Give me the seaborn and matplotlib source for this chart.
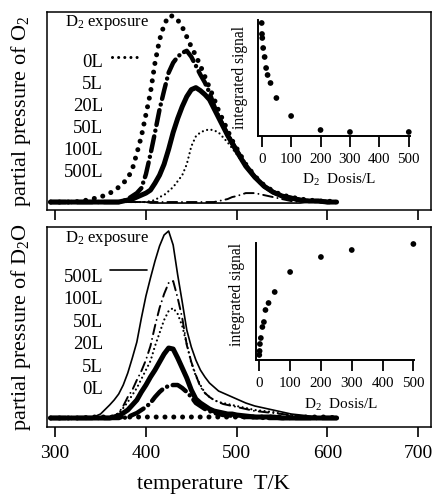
import matplotlib
matplotlib.use("Agg")
import matplotlib.pyplot as plt
import pandas as pd
import seaborn as sns

# ---------------- data ----------------
temps = [295, 300, 310, 320, 330, 340, 350,
         360, 365, 370, 375, 380, 385, 390, 395, 400, 405, 410, 415, 420, 425, 430,
         435, 440, 445, 450, 455, 460, 465, 470, 475, 480, 485, 490, 495, 500,
         510, 520, 530, 540, 550, 560, 570, 580, 590, 600, 610]

exposures = ["0L", "5L", "20L", "50L", "100L", "500L"]

# O2 desorption (arbitrary units)
o2_0L = [0, 0, 0, 0, 1, 3, 5,
         9, 11, 15, 19, 24, 33, 49, 66, 88, 110, 140, 163, 178, 187, 187,
         183, 176, 166, 156, 147, 137, 126, 115, 104, 92, 82, 72, 62, 54,
         38, 26, 17, 11, 7, 5, 3, 2, 1, 1, 0]
o2_5L = [0, 0, 0, 0, 0, 0, 0,
         0, 0, 0, 1, 3, 6, 9, 14, 28, 48, 70, 93, 112, 130, 140,
         146, 150, 152, 146, 137, 128, 120, 110, 97, 86, 77, 68, 60, 52,
         37, 25, 16, 10, 6, 4, 2, 1, 1, 0, 0]
o2_20L = [0, 0, 0, 0, 0, 0, 0,
          0, 0, 0, 1, 2, 3, 5, 7, 9, 12, 19, 27, 38, 53, 70,
          84, 96, 106, 113, 115, 112, 108, 103, 94, 85, 76, 67, 59, 51,
          36, 25, 16, 10, 6, 4, 2, 1, 1, 0, 0]
o2_50L = [0, 0, 0, 0, 0, 0, 0,
          0, 0, 0, 0, 0, 0, 0, 0, 0, 1, 2, 5, 7, 11, 15,
          21, 27, 38, 56, 66, 70, 72, 73, 72, 70, 65, 60, 54, 48,
          35, 24, 15, 9, 6, 4, 3, 2, 2, 1, 1]
o2_100L = [0, 0, 0, 0, 0, 0, 0,
           0, 0, 0, 0, 0, 0, 0, 0, 0, 0, 0, 0, 0, 0, 0,
           0, 0, 0, 0, 0, 0, 0, 0, 0, 1, 2, 3, 5, 6,
           9, 9, 7, 5, 3, 1, 0, 0, 0, 0, 0]
o2_500L = [0, 0, 0, 0, 0, 0, 0,
           0, 0, 0, 0, 0, 0, 0, 0, 0, -1, -1, -1, -1, -1, -1,
           -1, -1, -1, -1, -1, -1, -1, -1, -1, -1, -1, -1, -1, -1,
           -1, -1, -1, -1, -1, -1, -1, 0, 0, 0, 0]

# D2O desorption (arbitrary units)
d2o_0L = [0, 0, 0, 0, 0, 1, 1,
          1, 1, 1, 1, 1, 1, 1, 1, 1, 1, 1, 1, 1, 1, 1,
          1, 1, 1, 1, 1, 1, 1, 1, 1, 1, 1, 1, 1, 1,
          1, 1, 1, 1, 1, 1, 1, 1, 1, 1, 0]
d2o_5L = [0, 0, 0, 0, 0, 0, 0,
          0, 0, 0, 0, 1, 3, 5, 8, 11, 15, 21, 26, 30, 32, 33,
          33, 30, 26, 21, 15, 12, 9, 7, 5, 4, 3, 3, 2, 2,
          1, 1, 0, 0, 0, 0, 0, 0, 0, 0, 0]
d2o_20L = [0, 0, 0, 0, 0, 0, 0,
           0, 1, 2, 5, 8, 13, 18, 26, 33, 41, 48, 56, 64, 70, 69,
           60, 50, 40, 28, 19, 15, 12, 9, 7, 6, 5, 4, 4, 3,
           2, 1, 1, 1, 0, 0, 0, 0, 0, 0, 0]
d2o_50L = [0, 0, 0, 0, 0, 0, 0,
           1, 2, 5, 10, 16, 23, 30, 39, 48, 57, 72, 85, 98, 107, 110,
           104, 92, 74, 55, 42, 33, 25, 21, 18, 16, 15, 14, 13, 12,
           10, 8, 7, 6, 4, 3, 2, 1, 1, 0, 0]
d2o_100L = [0, 0, 0, 0, 0, 0, 0,
            1, 2, 5, 12, 21, 28, 38, 47, 58, 72, 92, 110, 124, 135, 137,
            120, 100, 73, 56, 43, 31, 25, 21, 18, 16, 14, 13, 12, 11,
            9, 7, 6, 5, 4, 3, 2, 1, 1, 0, 0]
d2o_500L = [0, 0, 0, 0, 0, 0, 4,
            13, 18, 24, 33, 45, 60, 76, 100, 122, 140, 157, 172, 183, 187, 173,
            143, 116, 88, 71, 58, 48, 41, 35, 31, 27, 25, 23, 21, 19,
            15, 12, 10, 8, 6, 4, 3, 2, 1, 0, 0]

# integrated signals (insets)
dose = [0, 1, 2, 5, 10, 15, 20, 30, 50, 100, 200, 300, 500]
o2_integrated = [113, 102, 98, 88, 79, 68, 61, 53, 38, 20, 6, 4, 4]
d2o_integrated = [5, 9, 16, 22, 33, 38, 50, 57, 68, 88, 103, 110, 116]

tick_T = [300, 400, 500, 600, 700]
tick_dose = [0, 100, 200, 300, 400, 500]

o2_curves = dict(zip(exposures, [o2_0L, o2_5L, o2_20L, o2_50L, o2_100L, o2_500L]))
d2o_curves = dict(zip(exposures, [d2o_0L, d2o_5L, d2o_20L, d2o_50L, d2o_100L, d2o_500L]))

# ---------------- styles ----------------
styles = {
    "0L":   dict(lw=3.6, ls=(0, (0.01, 1.75))),
    "5L":   dict(lw=3.2, ls=(0, (3.4, 1.3, 0.01, 1.3))),
    "20L":  dict(lw=3.6, ls="-"),
    "50L":  dict(lw=1.6, ls=(0, (0.01, 2.0))),
    "100L": dict(lw=1.4, ls=(0, (5, 2.5, 0.01, 2.5))),
    "500L": dict(lw=1.2, ls="-"),
}
draw_order = ["500L", "100L", "50L", "20L", "5L", "0L"]

sns.set_theme(style="ticks")
plt.rcParams['font.family'] = ['Liberation Serif', 'DejaVu Serif']
plt.rcParams['mathtext.fontset'] = 'custom'
plt.rcParams['mathtext.rm'] = 'Liberation Serif'
plt.rcParams['mathtext.it'] = 'Liberation Serif:italic'
plt.rcParams['mathtext.bf'] = 'Liberation Serif:bold'
for k in ['axes.edgecolor', 'xtick.color', 'ytick.color', 'text.color', 'axes.labelcolor']:
    plt.rcParams[k] = 'black'

fig = plt.figure(figsize=(4.33, 4.96), dpi=100)
ax1 = fig.add_axes([0.1085, 0.5766, 0.8868, 0.3992])
ax2 = fig.add_axes([0.1085, 0.1391, 0.8868, 0.4032])


def draw_panel(ax, curves, ylim):
    for lab in draw_order:
        df = pd.DataFrame({"T": temps, "p": curves[lab]})
        st = styles[lab]
        sns.lineplot(data=df, x="T", y="p", ax=ax, color="black",
                     linewidth=st["lw"], linestyle=st["ls"],
                     dash_capstyle="round", solid_capstyle="round",
                     estimator=None, errorbar=None)
    ax.set_xlim(291, 714)
    ax.set_ylim(*ylim)
    ax.set_xticks(tick_T)
    ax.set_yticks([])
    ax.tick_params(axis='x', direction='out', length=7.5, width=1.2, pad=5.5,
                   labelsize=14)
    for s in ax.spines.values():
        s.set_linewidth(1.1)
        s.set_visible(True)
    ax.set_xlabel("")


draw_panel(ax1, o2_curves, (-8, 191))
draw_panel(ax2, d2o_curves, (-9, 191))
ax1.tick_params(axis='x', labelbottom=False)

ax1.set_ylabel("partial pressure of O$_2$", fontsize=16)
ax2.set_ylabel("partial pressure of D$_2$O", fontsize=16)
ax1.yaxis.set_label_coords(-0.0365, 0.5)
ax2.yaxis.set_label_coords(-0.0365, 0.5)
ax2.set_xlabel("temperature  T/K", fontsize=16)
ax2.xaxis.set_label_coords(0.434, -0.24)

# legend-like annotations
ax1.text(0.047, 0.945, "D$_2$ exposure", transform=ax1.transAxes,
         fontsize=12, ha='left', va='center')
for i, lab in enumerate(exposures):
    ax1.text(0.146, 0.744 - i * 0.1106, lab, transform=ax1.transAxes,
             fontsize=13.5, ha='right', va='center')
ax1.plot([0.169, 0.245], [0.774, 0.774], transform=ax1.transAxes, color='black',
         lw=2.2, ls=(0, (0.01, 2.0)), dash_capstyle='round')

ax2.text(0.047, 0.945, "D$_2$ exposure", transform=ax2.transAxes,
         fontsize=12, ha='left', va='center')
for i, lab in enumerate(exposures[::-1]):
    ax2.text(0.146, 0.75 - i * 0.1125, lab, transform=ax2.transAxes,
             fontsize=13.5, ha='right', va='center')
ax2.plot([0.164, 0.260], [0.785, 0.785], transform=ax2.transAxes, color='black',
         lw=1.2, ls='-')


def draw_inset(rect, values, xlim, ylim, ylab_xy, xlab_xy):
    axi = fig.add_axes(rect)
    axi.patch.set_visible(False)
    sns.scatterplot(x=dose, y=values, ax=axi, color='black', s=17,
                    edgecolor='none', linewidth=0, clip_on=False)
    axi.set_xlim(*xlim)
    axi.set_ylim(*ylim)
    axi.set_xticks(tick_dose)
    axi.set_yticks([])
    axi.tick_params(axis='x', direction='out', length=8, width=1.3, pad=4.5,
                    labelsize=10.8)
    for side in ['top', 'right']:
        axi.spines[side].set_visible(False)
    for side in ['left', 'bottom']:
        axi.spines[side].set_linewidth(1.4)
    axi.set_ylabel("integrated signal", fontsize=11.2)
    axi.yaxis.set_label_coords(*ylab_xy)
    axi.set_xlabel("D$_2$  Dosis/L", fontsize=11)
    axi.xaxis.set_label_coords(*xlab_xy)
    return axi


draw_inset([0.5958, 0.7258, 0.351, 0.2339], o2_integrated, (-12.6, 504), (0, 116),
           (-0.066, 0.5), (0.53, -0.31))
draw_inset([0.5905, 0.2742, 0.3656, 0.2359], d2o_integrated, (-11.7, 502), (0, 117),
           (-0.068, 0.56), (0.54, -0.316))

fig.savefig("out.png", dpi=100)
